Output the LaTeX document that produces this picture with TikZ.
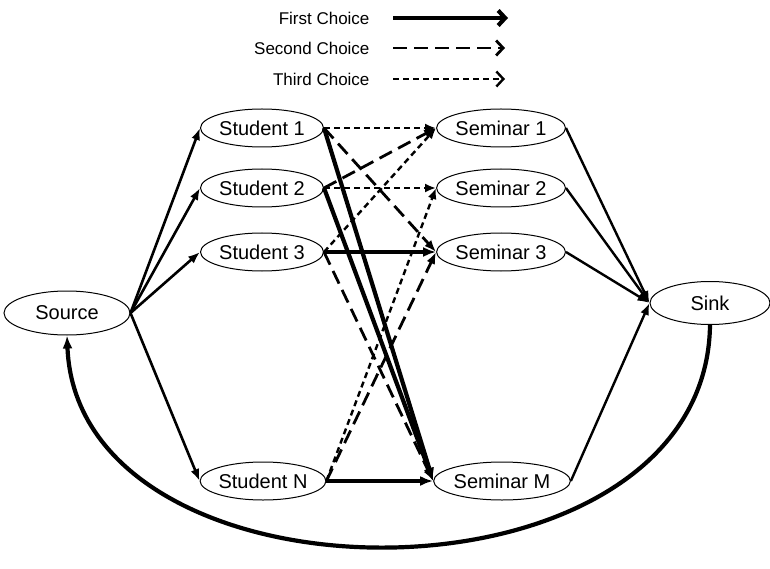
\documentclass[tikz,border=0pt]{standalone}
\usepackage{fontspec}
\setmainfont{Liberation Sans}
\usetikzlibrary{arrows.meta,shapes.geometric}

\begin{document}
\begin{tikzpicture}[x=1pt, y=-1pt,
    place/.style={ellipse, draw, line width=1pt, inner sep=0pt,
      minimum width=123pt, minimum height=38pt, font=\fontsize{20}{24}\selectfont},
    flow/.style={-{Latex[length=12pt,width=9pt]}, line width=2.6pt},
    first/.style={-{Latex[length=13pt,width=10pt]}, line width=4.2pt},
    second/.style={-{Latex[length=12pt,width=9pt]}, line width=2.8pt, dash pattern=on 14pt off 7pt},
    third/.style={-{Latex[length=11pt,width=9pt]}, line width=2.4pt, dash pattern=on 6pt off 4pt},
    key/.style={font=\fontsize{17}{20}\selectfont, anchor=east},
    keytip/.style={-{Straight Barb[length=7pt,width=15pt]}}]

\useasboundingbox (0,0) rectangle (770,569);

% Legend for the three kinds of choice
\node[key] (k1) at (373,18) {First Choice};
\node[key] (k2) at (373,48) {Second Choice};
\node[key] (k3) at (373,79) {Third Choice};
\coordinate (k1a) at (393,18); \coordinate (k1b) at (508,18);
\coordinate (k2a) at (393,48); \coordinate (k2b) at (505,48);
\coordinate (k3a) at (393,79); \coordinate (k3b) at (505,79);
\draw[first, keytip]  (k1a) -- (k1b);
\draw[second, keytip] (k2a) -- (k2b);
\draw[third, keytip]  (k3a) -- (k3b);

% Source and sink
\node[place, minimum width=126pt, minimum height=44pt] (src)  at (67,313)  {Source};
\node[place, minimum width=120pt, minimum height=43pt] (sink) at (710,303) {Sink};

% Students on the left column
\node[place] (st1) at (262,128) {Student 1};
\node[place] (st2) at (262,188) {Student 2};
\node[place] (st3) at (262,252) {Student 3};
\node[place] (stN) at (263,481) {Student N};

% Seminars on the right column
\node[place] (sem1) at (501,128) {Seminar 1};
\node[place] (sem2) at (501,188) {Seminar 2};
\node[place] (sem3) at (501,252) {Seminar 3};
\node[place, minimum width=125pt] (semM) at (502,481) {Seminar M};

% Source to every student, every seminar to the sink
\foreach \s in {st1, st2, st3, stN}
  \draw[flow] (src.east) -- (\s.west);
\foreach \s in {sem1, sem2, sem3, semM}
  \draw[flow, line width=2.4pt] (\s.east) -- (sink.west);

% Student preferences
\foreach \a/\b/\k in {st1/semM/first, st2/semM/first, st3/sem3/first, stN/semM/first,
    st1/sem3/second, st2/sem1/second, st3/semM/second, stN/sem3/second,
    st1/sem1/third, st2/sem2/third, st3/sem1/third, stN/sem2/third}
  \draw[\k] (\a.east) -- (\b.west);

% Return flow from sink back to source
\draw[-{Latex[length=13pt,width=10pt]}, line width=4.2pt]
  (sink.south) .. controls (706,618) and (78,618) .. (src.south);

\end{tikzpicture}
\end{document}
